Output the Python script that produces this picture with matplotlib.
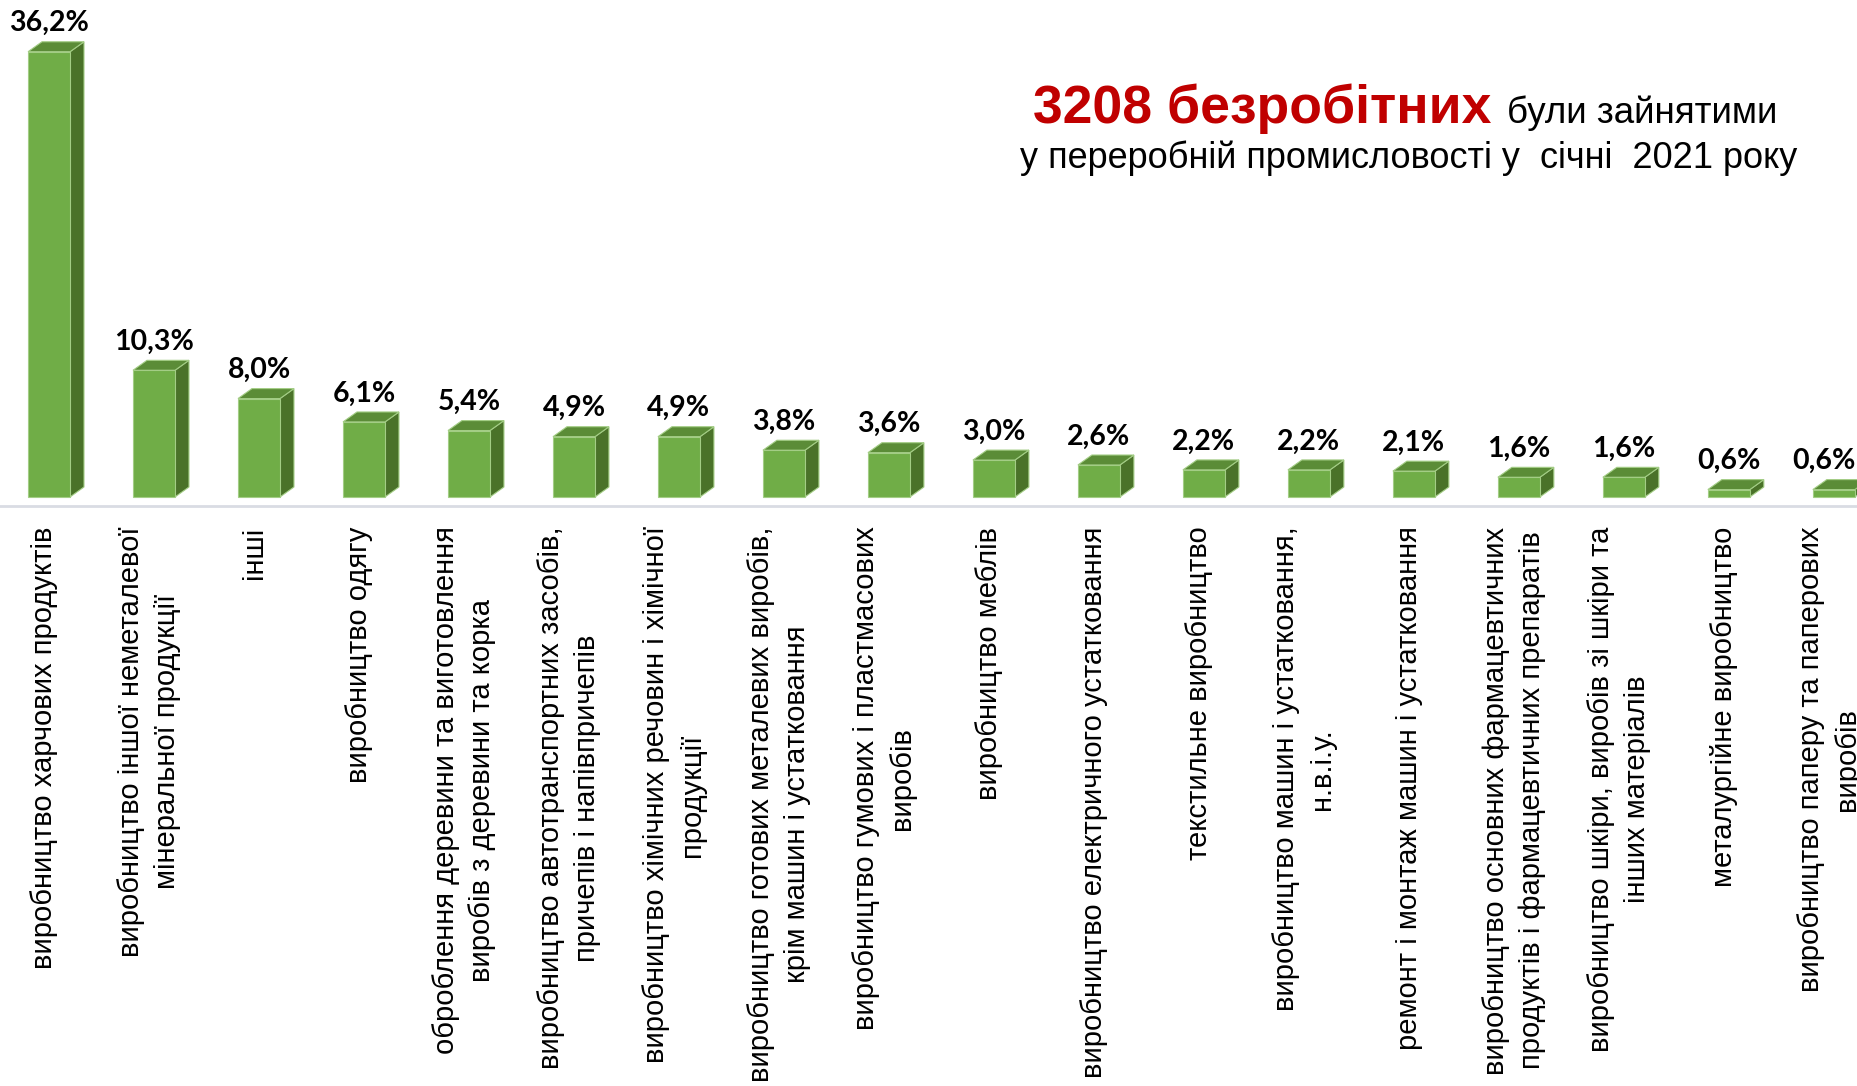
#!/usr/bin/env python3
"""
Unemployed persons previously employed in manufacturing, January 2021 -
share by industry, drawn as pseudo-3D bars.
"""

import matplotlib
matplotlib.use("Agg")
import matplotlib.pyplot as plt
from matplotlib.patches import Polygon

# -------------------------
# Data
# -------------------------
categories = [
    "виробництво харчових продуктів",
    "виробництво іншої неметалевої\nмінеральної продукції",
    "інші",
    "виробництво одягу",
    "оброблення деревини та виготовлення\nвиробів з деревини та корка",
    "виробництво автотранспортних засобів,\nпричепів і напівпричепів",
    "виробництво хімічних речовин і хімічної\nпродукції",
    "виробництво готових металевих виробів,\nкрім машин і устатковання",
    "виробництво гумових і пластмасових\nвиробів",
    "виробництво меблів",
    "виробництво електричного устатковання",
    "текстильне виробництво",
    "виробництво машин і устатковання,\nн.в.і.у.",
    "ремонт і монтаж машин і устатковання",
    "виробництво основних фармацевтичних\nпродуктів і фармацевтичних препаратів",
    "виробництво шкіри, виробів зі шкіри та\nінших матеріалів",
    "металургійне виробництво",
    "виробництво паперу та паперових\nвиробів",
]
shares = [36.2, 10.3, 8.0, 6.1, 5.4, 4.9, 4.9, 3.8, 3.6, 3.0,
          2.6, 2.2, 2.2, 2.1, 1.6, 1.6, 0.6, 0.6]

title_red = "3208 безробітних"
title_black = "були зайнятими"
title_line2 = "у переробній промисловості у  січні  2021 року"

# colours
FRONT = "#70ad47"
SIDE = "#4a7229"
TOP = "#5b8c37"
EDGE = "#a3cd85"

# -------------------------
# Helpers
# -------------------------

def draw_bar3d(ax, x, value, width=0.4, dx=0.133, dy=0.81):
    """Front face + right side + top, to fake a 3D column."""
    left, right = x - width / 2, x + width / 2
    side = [(right, 0), (right + dx, dy), (right + dx, value + dy), (right, value)]
    top = [(left, value), (right, value), (right + dx, value + dy), (left + dx, value + dy)]
    front = [(left, 0), (right, 0), (right, value), (left, value)]
    for pts, col in ((side, SIDE), (top, TOP), (front, FRONT)):
        ax.add_patch(Polygon(pts, closed=True, facecolor=col, edgecolor=EDGE,
                             linewidth=0.8, clip_on=False, zorder=3))
    return value + dy


def main():
    fig = plt.figure(figsize=(18.58, 10.86), dpi=100)
    ax = fig.add_axes([0.0, 0.5424, 1.0, 0.453])
    ax.set_xlim(-0.467, 17.23)
    ax.set_ylim(0, 40)
    ax.axis("off")

    value_labels = []
    for i, (v, cat) in enumerate(zip(shares, categories)):
        top_y = draw_bar3d(ax, i, v)
        label = f"{v:.1f}%".replace(".", ",")
        t = ax.annotate(label, (i, top_y), xytext=(0, 7.5), textcoords="offset points",
                        ha="center", va="baseline", fontsize=20.5, fontweight="bold",
                        family="Lato", color="black", zorder=4)
        value_labels.append(t)
        ax.text(i - 0.05, -2.4, cat, rotation=90, ha="center", va="top",
                multialignment="center", fontsize=21, family="Liberation Sans",
                linespacing=1.36, clip_on=False)

    # baseline under the bars
    ax.axhline(-0.73, color="#d9dce3", linewidth=2, clip_on=False, zorder=1)

    # title block
    fig.text(1491 / 1858, 1 - 123 / 1086, title_red, ha="right", va="baseline",
             fontsize=38.5, fontweight="bold", color="#c00000", family="Liberation Sans")
    fig.text(1507 / 1858, 1 - 123 / 1086, title_black, ha="left", va="baseline",
             fontsize=26.5, color="black", family="Liberation Sans")
    fig.text(1409 / 1858, 1 - 168 / 1086, title_line2, ha="center", va="baseline",
             fontsize=26, color="black", family="Liberation Sans")

    # keep the last value label inside the canvas
    renderer = fig.canvas.get_renderer()
    W = fig.bbox.width
    for t in value_labels:
        bb = t.get_window_extent(renderer)
        if bb.x1 > W - 2:
            shift = (bb.x1 - (W - 2)) * 72 / fig.dpi
            t.xyann = (-shift, 7.5)

    fig.savefig("out.png", dpi=100, facecolor="white")


if __name__ == "__main__":
    main()
